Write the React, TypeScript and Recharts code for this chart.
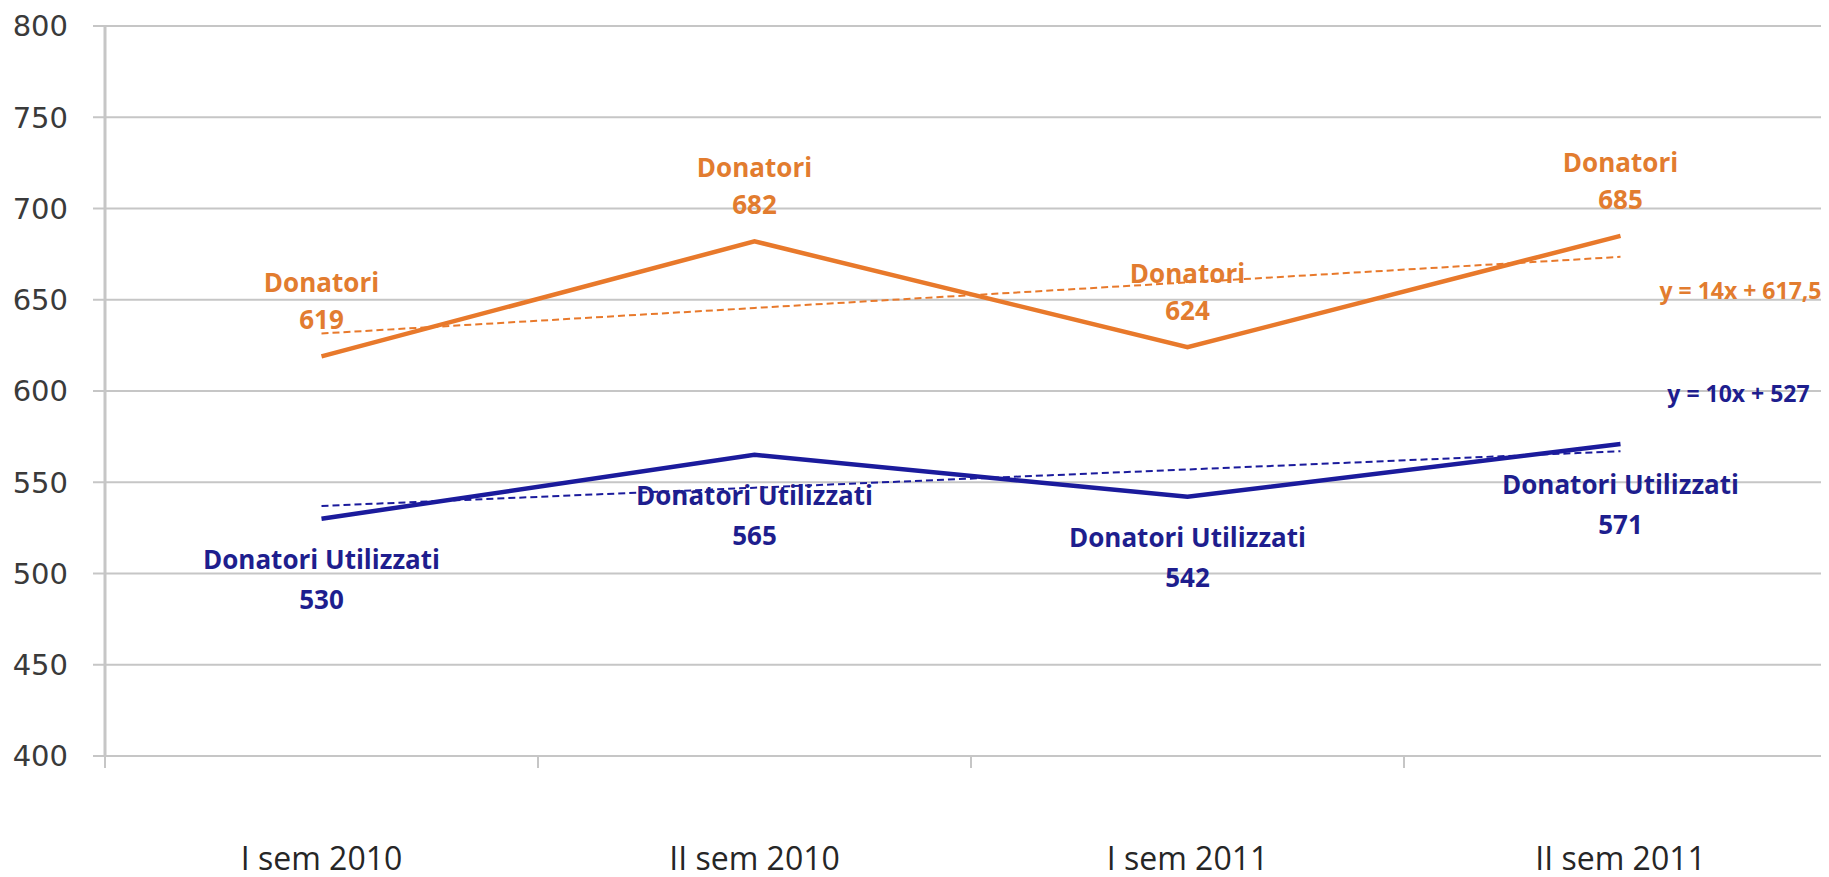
import React from "react";
import { LineChart, Line, XAxis, YAxis, CartesianGrid } from "recharts";

const categories = ["I sem 2010", "II sem 2010", "I sem 2011", "II sem 2011"];
const donatori = [619, 682, 624, 685];
const donatoriUtilizzati = [530, 565, 542, 571];
// trend lines as printed on the chart: y = 14x + 617,5 and y = 10x + 527
const donatoriTrend = [631.5, 645.5, 659.5, 673.5];
const utilizzatiTrend = [537, 547, 557, 567];
const yTicks = [400, 450, 500, 550, 600, 650, 700, 750, 800];

const data = categories.map((name, i) => ({
  name,
  donatori: donatori[i],
  utilizzati: donatoriUtilizzati[i],
  trendD: donatoriTrend[i],
  trendU: utilizzatiTrend[i],
}));

const ORANGE = "#E8792B";
const ORANGE_TXT = "#E27C2F";
const BLUE = "#1B1B9C";
const BLUE_TXT = "#1E1E8E";
const GRID = "#C6C6C6";
const HALF_BAND = 216.5;

const labelFont = { fontFamily: "'Open Sans', sans-serif", fontWeight: 700, fontSize: 26 };

const DonatoriLabel = (props: any) => {
  const { x, y, value } = props;
  return (
    <g>
      <text x={x} y={y - 74} textAnchor="middle" dominantBaseline="central" fill={ORANGE_TXT} style={labelFont}>Donatori</text>
      <text x={x} y={y - 37} textAnchor="middle" dominantBaseline="central" fill={ORANGE_TXT} style={labelFont}>{value}</text>
    </g>
  );
};

const UtilizzatiLabel = (props: any) => {
  const { x, y, value } = props;
  return (
    <g>
      <text x={x} y={y + 40} textAnchor="middle" dominantBaseline="central" fill={BLUE_TXT} style={labelFont}>Donatori Utilizzati</text>
      <text x={x} y={y + 80} textAnchor="middle" dominantBaseline="central" fill={BLUE_TXT} style={labelFont}>{value}</text>
    </g>
  );
};

const eqFont = { fontFamily: "'Open Sans', sans-serif", fontWeight: 700, fontSize: 23 };

const TrendDLabel = (props: any) => {
  const { x, y, index } = props;
  if (index !== categories.length - 1) return null;
  return (
    <text x={x + 120} y={y + 33} textAnchor="middle" dominantBaseline="central" fill={ORANGE_TXT} style={eqFont}>
      y = 14x + 617,5
    </text>
  );
};

const TrendULabel = (props: any) => {
  const { x, y, index } = props;
  if (index !== categories.length - 1) return null;
  return (
    <text x={x + 118} y={y - 58} textAnchor="middle" dominantBaseline="central" fill={BLUE_TXT} style={eqFont}>
      y = 10x + 527
    </text>
  );
};

const CategoryTick = (props: any) => {
  const { x, y, payload } = props;
  return (
    <g>
      <line x1={x - HALF_BAND} x2={x - HALF_BAND} y1={y - 12} y2={y} stroke={GRID} strokeWidth={2} />
      <text
        x={x}
        y={y + 89}
        textAnchor="middle"
        dominantBaseline="central"
        fill="#262626"
        style={{ fontFamily: "'Open Sans', sans-serif", fontSize: 32 }}
      >
        {payload.value}
      </text>
    </g>
  );
};

export default function App() {
  return (
    <div style={{ background: "#fff" }}>
      <style>{`body{overflow:hidden;background:#fff}`}</style>
      <LineChart width={1829} height={869} data={data} margin={{ top: 18, right: 0, bottom: 0, left: 0 }}>
        <CartesianGrid vertical={false} stroke={GRID} strokeWidth={2} />
        <XAxis
          dataKey="name"
          height={121}
          padding={{ left: HALF_BAND, right: HALF_BAND }}
          axisLine={{ stroke: GRID, strokeWidth: 2 }}
          tickLine={false}
          tickSize={12}
          tickMargin={0}
          interval={0}
          tick={<CategoryTick />}
        />
        <YAxis
          width={97}
          domain={[400, 800]}
          ticks={yTicks}
          interval={0}
          axisLine={{ stroke: GRID, strokeWidth: 3 }}
          tickLine={{ stroke: GRID, strokeWidth: 2 }}
          tickSize={12}
          tickMargin={25}
          tick={{ fill: "#3a3a3a", fontSize: 29, fontFamily: "'DejaVu Sans', sans-serif" }}
        />
        <Line
          dataKey="trendD"
          stroke={ORANGE}
          strokeWidth={2}
          strokeDasharray="7 4"
          dot={false}
          isAnimationActive={false}
          label={<TrendDLabel />}
        />
        <Line
          dataKey="trendU"
          stroke={BLUE}
          strokeWidth={2}
          strokeDasharray="7 4"
          dot={false}
          isAnimationActive={false}
          label={<TrendULabel />}
        />
        <Line
          dataKey="donatori"
          stroke={ORANGE}
          strokeWidth={4.5}
          dot={false}
          isAnimationActive={false}
          label={<DonatoriLabel />}
        />
        <Line
          dataKey="utilizzati"
          stroke={BLUE}
          strokeWidth={4.5}
          dot={false}
          isAnimationActive={false}
          label={<UtilizzatiLabel />}
        />
      </LineChart>
    </div>
  );
}
